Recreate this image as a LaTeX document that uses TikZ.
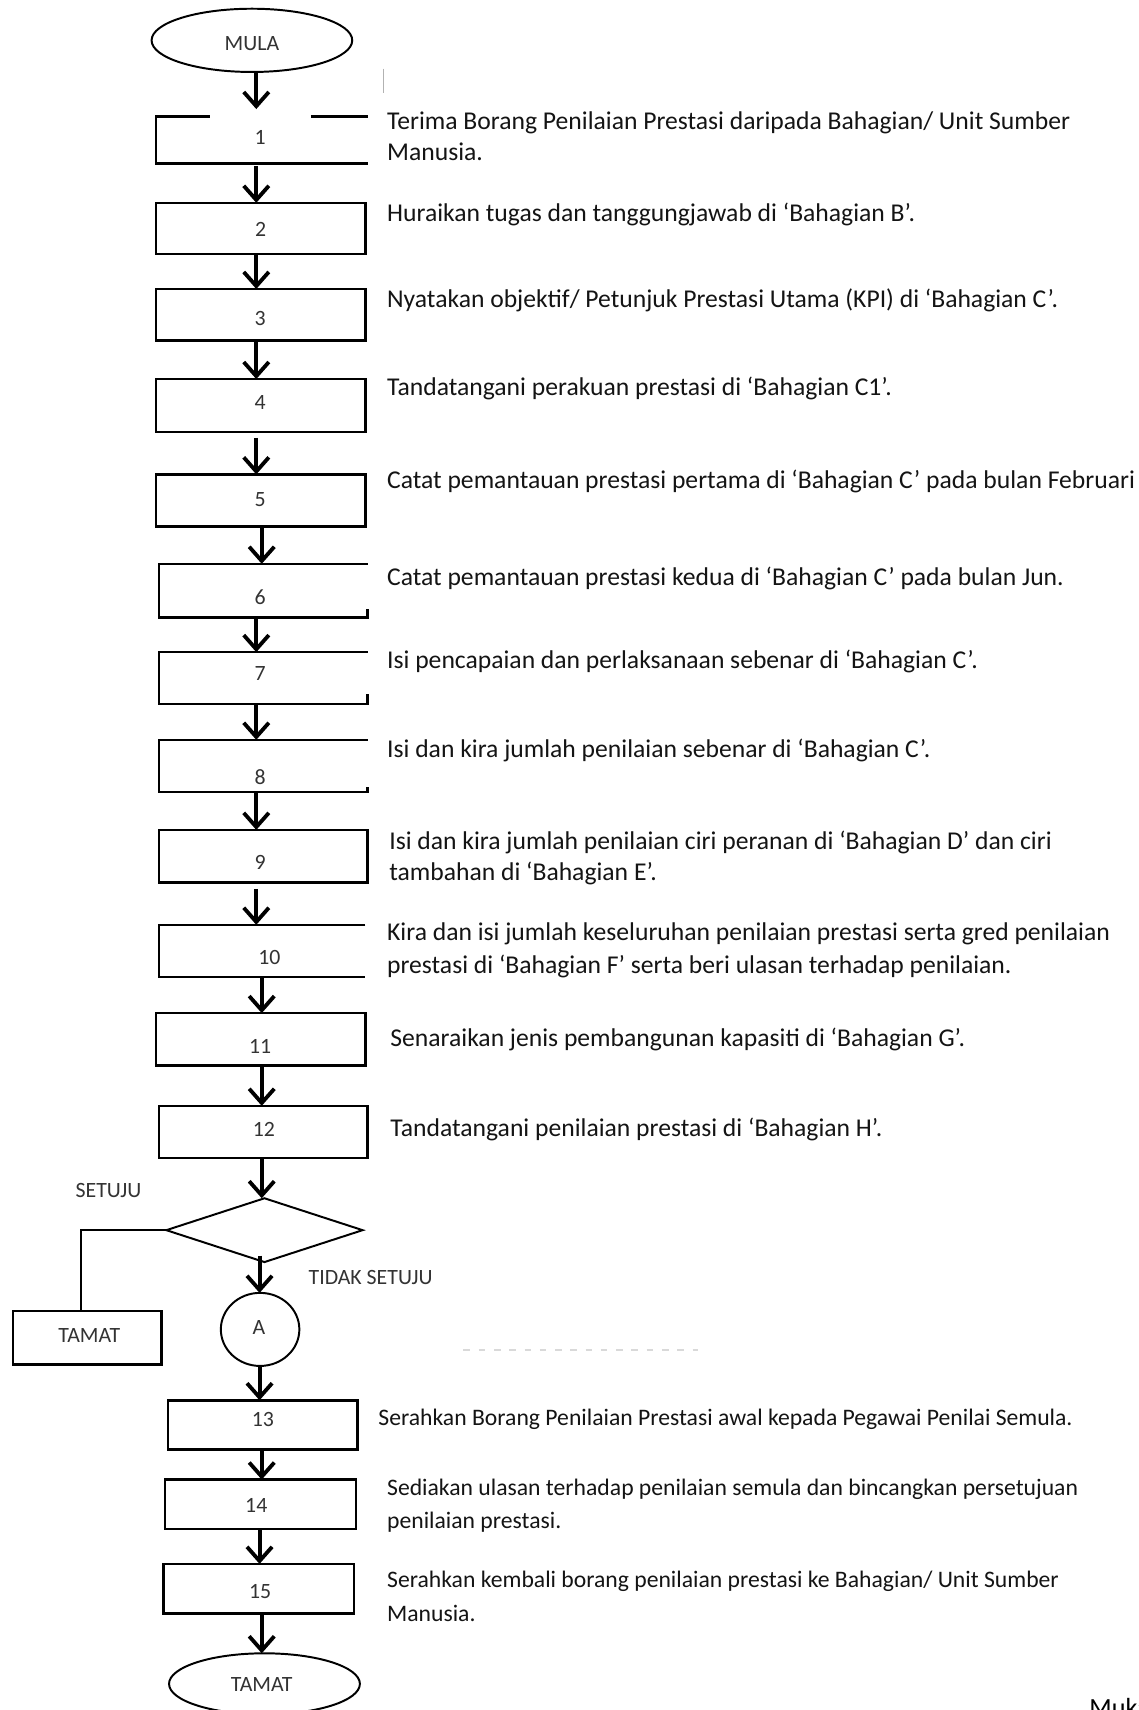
\documentclass[tikz,border=0pt]{standalone}
\usepackage{fontspec}
\setmainfont{Carlito}
\usetikzlibrary{arrows.meta,shapes.geometric}
\begin{document}
\begin{tikzpicture}[x=1pt,y=-1pt,
  every node/.style={inner sep=0pt,outer sep=0pt},
  frame/.style={draw=black,line width=2.3pt},
  edge/.style={line width=2.3pt,line join=miter},
  slim/.style={draw=black,line width=1.8pt},
  arr/.style={line width=3.7pt,-{Straight Barb[length=13pt,width=23pt,line width=3.5pt]}},
  tag/.style={font=\fontsize{20}{24}\selectfont,text=black!80},
  desc/.style={anchor=base west,font=\fontsize{23.5}{29}\selectfont,text=black!92},
  descb/.style={anchor=base west,font=\fontsize{21.7}{27}\selectfont,text=black!92},
  blank/.style={rectangle},
]
\useasboundingbox (0,0) rectangle (1044,1568);
\clip (0,0) rectangle (1044,1568);
\fill[white] (0,0) rectangle (1044,1568);

% arrow columns
\coordinate (c1) at (235,0);
\coordinate (c2) at (240,0);
\coordinate (c3) at (238,0);

% terminators
\node[ellipse,slim,minimum width=184pt,minimum height=58pt] (start) at (231,37) {};
\node[tag] (lstart) at (231,40) {MULA};
\node[ellipse,slim,minimum width=175pt,minimum height=56pt] (end) at (242.5,1544) {};
\node[tag] (lend) at (240,1545) {TAMAT};

% step boxes
\node[blank,minimum width=194pt,minimum height=43pt] (b1) at (240,128.5) {};
\node[blank,frame,minimum width=192pt,minimum height=47pt] (b2) at (239,209.5) {};
\node[blank,frame,minimum width=192pt,minimum height=47pt] (b3) at (239,288.5) {};
\node[blank,frame,minimum width=192pt,minimum height=48.4pt] (b4) at (239,371.8) {};
\node[blank,frame,minimum width=192pt,minimum height=48pt] (b5) at (239,459) {};
\node[blank,minimum width=191.3pt,minimum height=49pt] (b6) at (241.35,541.5) {};
\node[blank,minimum width=191.3pt,minimum height=47.5pt] (b7) at (241.35,621.75) {};
\node[blank,minimum width=191.3pt,minimum height=48pt] (b8) at (241.35,702.4) {};
\node[blank,frame,minimum width=191.3pt,minimum height=48pt] (b9) at (241.35,785) {};
\node[blank,minimum width=189.3pt,minimum height=48pt] (b10) at (240.35,872) {};
\node[blank,frame,minimum width=192pt,minimum height=48pt] (b11) at (239,953) {};
\node[blank,frame,minimum width=191.3pt,minimum height=48pt] (b12) at (241.35,1038) {};
\node[blank,frame,minimum width=174pt,minimum height=45pt] (b13) at (241,1306.5) {};
\node[blank,frame,minimum width=174.8pt,minimum height=45.3pt] (b14) at (238.9,1379.35) {};
\node[blank,frame,minimum width=174.8pt,minimum height=45.5pt] (b15) at (237.2,1456.75) {};

% open-sided boxes
\draw[edge] ([xshift=49.5pt]b1.north west) -- (b1.north west) -- (b1.south west) -- (b1.south east);
\draw[edge] ([xshift=-52pt]b1.north east) -- (b1.north east);
\draw[edge] (b6.north east) -- (b6.north west) -- (b6.south west) -- (b6.south east) -- ++(0,-7.6);
\draw[edge] (b7.north east) -- (b7.north west) -- (b7.south west) -- (b7.south east) -- ++(0,-9);
\draw[edge] (b8.north east) -- (b8.north west) -- (b8.south west) -- (b8.south east) -- ++(0,-4.6);
\draw[edge] (b10.north east) -- (b10.north west) -- (b10.south west) -- (b10.south east);

% step numbers
\node[tag] (l1) at (238.6,126) {1};
\node[tag] (l2) at (239,210) {2};
\node[tag] (l3) at (238.6,292.5) {3};
\node[tag] (l4) at (238.6,369) {4};
\node[tag] (l5) at (238.6,457.7) {5};
\node[tag] (l6) at (238.6,548) {6};
\node[tag] (l7) at (238.6,618) {7};
\node[tag] (l8) at (238.6,712.7) {8};
\node[tag] (l9) at (238.6,790.7) {9};
\node[tag] (l10) at (247,877.8) {10};
\node[tag] (l11) at (238.6,960) {11};
\node[tag] (l12) at (242,1035.5) {12};
\node[tag] (l13) at (241,1302) {13};
\node[tag] (l14) at (235,1380) {14};
\node[tag] (l15) at (238.6,1459.5) {15};

% decision
\node[diamond,slim,minimum width=180pt,minimum height=58.5pt] (dia) at (242.5,1128) {};
\node[tag] (lyes) at (99.5,1092) {SETUJU};
\node[tag,anchor=west] (lno) at (283,1171) {TIDAK SETUJU};
\node[blank,frame,minimum width=136pt,minimum height=49pt] (tb) at (80,1226.5) {};
\node[tag] (ltb) at (81.9,1224.8) {TAMAT};
\node[ellipse,slim,minimum width=72pt,minimum height=67pt] (A) at (238.5,1219) {};
\node[tag] (lA) at (237.5,1217) {A};
\coordinate (bendS) at (74,1128);
\draw[slim] (dia.west) -- (bendS) -- (bendS |- tb.north);

% flow arrows
\draw[arr,shorten >=7pt] (start.south -| c1) -- (b1.north -| c1);
\draw[arr,shorten <=2pt] (b1.south -| c1) -- (b2.north -| c1);
\draw[arr] (b2.south -| c1) -- (b3.north -| c1);
\draw[arr] (b3.south -| c1) -- (b4.north -| c1);
\draw[arr,shorten <=5.5pt] (b4.south -| c1) -- (b5.north -| c1);
\draw[arr] (b5.south -| c2) -- (b6.north -| c2);
\draw[arr] (b6.south -| c1) -- (b7.north -| c1);
\draw[arr] (b7.south -| c1) -- (b8.north -| c1);
\draw[arr] (b8.south -| c1) -- (b9.north -| c1);
\draw[arr,shorten <=6pt] (b9.south -| c1) -- (b10.north -| c1);
\draw[arr] (b10.south -| c2) -- (b11.north -| c2);
\draw[arr] (b11.south -| c2) -- (b12.north -| c2);
\draw[arr] (b12.south -| c2) -- (dia.north -| c2);
\draw[arr] ([yshift=6pt]dia.south -| c3) -- (A.north -| c3);
\draw[arr] (A.south -| c3) -- (b13.north -| c3);
\draw[arr] (b13.south -| c2) -- (b14.north -| c2);
\draw[arr] (b14.south -| c3) -- (b15.north -| c3);
\draw[arr] (b15.south -| c2) -- (end.north -| c2);

% step descriptions
\node[desc] (t1a) at (355,118.5) {Terima Borang Penilaian Prestasi daripada Bahagian/ Unit Sumber};
\node[desc] (t1b) at (355,147.5) {Manusia.};
\node[desc] (t2) at (355,203.5) {Huraikan tugas dan tanggungjawab di ‘Bahagian B’.};
\node[desc] (t3) at (355,282) {Nyatakan objektif/ Petunjuk Prestasi Utama (KPI) di ‘Bahagian C’.};
\node[desc] (t4) at (355,362.5) {Tandatangani perakuan prestasi di ‘Bahagian C1’.};
\node[desc] (t5) at (355,447.5) {Catat pemantauan prestasi pertama di ‘Bahagian C’ pada bulan Februari};
\node[desc] (t6) at (355,536.5) {Catat pemantauan prestasi kedua di ‘Bahagian C’ pada bulan Jun.};
\node[desc] (t7) at (355,613) {Isi pencapaian dan perlaksanaan sebenar di ‘Bahagian C’.};
\node[desc] (t8) at (355,695) {Isi dan kira jumlah penilaian sebenar di ‘Bahagian C’.};
\node[desc] (t9a) at (357,778.5) {Isi dan kira jumlah penilaian ciri peranan di ‘Bahagian D’ dan ciri};
\node[desc] (t9b) at (357,807.5) {tambahan di ‘Bahagian E’.};
\node[desc] (t10a) at (355,862.5) {Kira dan isi jumlah keseluruhan penilaian prestasi serta gred penilaian};
\node[desc] (t10b) at (355,892.5) {prestasi di ‘Bahagian F’ serta beri ulasan terhadap penilaian.};
\node[desc] (t11) at (358,959.5) {Senaraikan jenis pembangunan kapasiti di ‘Bahagian G’.};
\node[desc] (t12) at (358,1042) {Tandatangani penilaian prestasi di ‘Bahagian H’.};
\node[descb] (t13) at (347,1307.5) {Serahkan Borang Penilaian Prestasi awal kepada Pegawai Penilai Semula.};
\node[descb] (t14a) at (355,1371) {Sediakan ulasan terhadap penilaian semula dan bincangkan persetujuan};
\node[descb] (t14b) at (355,1402) {penilaian prestasi.};
\node[descb] (t15a) at (355,1456) {Serahkan kembali borang penilaian prestasi ke Bahagian/ Unit Sumber};
\node[descb] (t15b) at (355,1487) {Manusia.};

% page footer, cut by the page edge
\node[anchor=north west,font=\fontsize{24}{28}\selectfont] (pg) at (999,1557) {Muka surat};

% faint remnants
\draw[black!30,line width=0.8pt] (352,63) -- (352,85);
\draw[black!15,line width=1.5pt,dash pattern=on 6pt off 8pt] (425,1238) -- (640,1238);
\end{tikzpicture}
\end{document}
